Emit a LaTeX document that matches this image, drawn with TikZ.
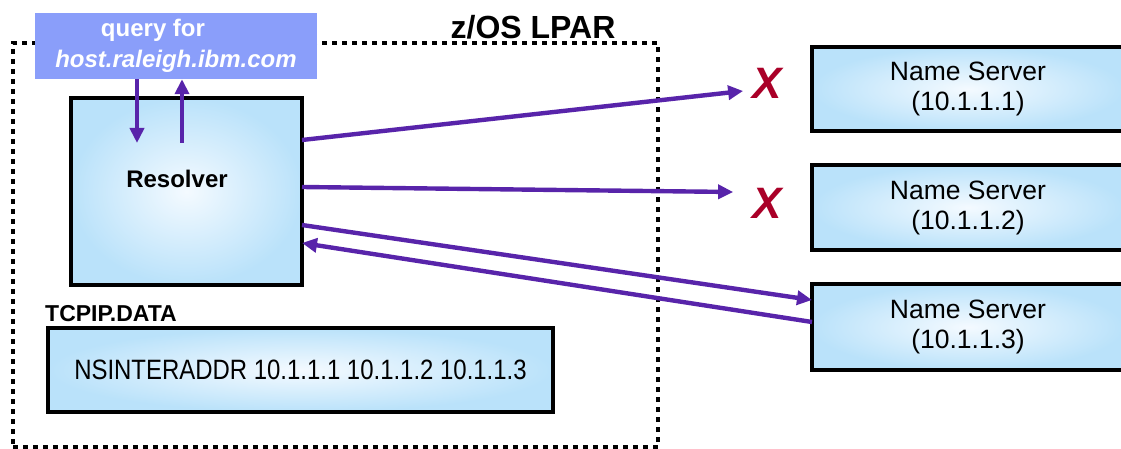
\documentclass[tikz,border=0pt]{standalone}
\usepackage{fontspec}
\setmainfont{Liberation Sans}
\usetikzlibrary{arrows.meta}
\definecolor{queryfill}{RGB}{138,158,250}
\definecolor{flow}{RGB}{88,36,170}
\definecolor{fail}{RGB}{170,0,40}
\definecolor{boxedge}{RGB}{186,226,250}
\definecolor{boxmid}{RGB}{244,250,255}
\begin{document}
\begin{tikzpicture}[x=1pt,y=-1pt,
  panel/.style={draw=black,line width=4pt,inner color=boxmid,outer color=boxedge,
    inner sep=0pt,outer sep=0pt,align=center},
  flowline/.style={draw=flow,line width=4.4pt,-{Triangle[length=15pt,width=14pt]}},
  framebox/.style={draw=black,line width=4.6pt,dash pattern=on 5pt off 5pt,
    inner sep=0pt,outer sep=0pt},
  querybox/.style={fill=queryfill,text=white,font=\fontsize{24}{31}\selectfont\bfseries,
    inner sep=0pt,align=center},
  srvtext/.style={font=\fontsize{26.5}{30}\selectfont},
  failmark/.style={text=fail,font=\fontsize{44}{44}\selectfont\bfseries\itshape,inner sep=0pt}]
\useasboundingbox (0,0) rectangle (1121,449);
\clip (0,0) rectangle (1121,449);

% LPAR boundary and its title
\node[framebox,minimum width=645pt,minimum height=404pt] (lpar) at (335.5,245) {};
\node[anchor=base,font=\fontsize{32}{34}\selectfont\bfseries,inner sep=0pt] (lpartitle) at (533,39) {z/OS LPAR};

% query box on top of the boundary
\node[querybox,minimum width=282pt,minimum height=66pt] (query) at (176,46)
  {query for\hspace*{46pt}\\ \textit{host.raleigh.ibm.com}};

% resolver
\node[panel,minimum width=231pt,minimum height=187pt] (res) at (186.5,191.5) {};
\node[font=\fontsize{24}{26}\selectfont\bfseries,inner sep=0pt] (reslabel) at (177,179) {Resolver};

% TCPIP.DATA
\node[anchor=base west,font=\fontsize{23}{24}\selectfont\bfseries,inner sep=0pt] (tcpiplabel) at (45,321) {TCPIP.DATA};
\node[panel,minimum width=505pt,minimum height=84pt] (tcpip) at (300.5,370)
  {\scalebox{0.855}[1]{\fontsize{28}{30}\selectfont NSINTERADDR 10.1.1.1 10.1.1.2 10.1.1.3}};

% name servers (running past the right edge)
\node[panel,minimum width=312pt,minimum height=84pt,srvtext] (ns1) at (968,89) {Name Server\\(10.1.1.1)};
\node[panel,minimum width=312pt,minimum height=85pt,srvtext] (ns2) at (968,207.5) {Name Server\\(10.1.1.2)};
\node[panel,minimum width=312pt,minimum height=86pt,srvtext] (ns3) at (968,327) {Name Server\\(10.1.1.3)};

% unreachable marks
\node[failmark] (x1) at (767,83) {X};
\node[failmark] (x2) at (767,203) {X};

% query in and answer out
\coordinate (qdown) at (137,143);
\coordinate (qup) at (182,143);
\draw[flowline] (query.south -| qdown) -- (qdown);
\draw[flowline] (qup) -- (query.south -| qup);

% attempts to the name servers
\draw[flowline] ([yshift=51.5pt]res.east) -- ([xshift=-9pt,yshift=-8pt]x1.west);
\draw[flowline] ([yshift=4.5pt]res.east) -- ([xshift=-19pt,yshift=11pt]x2.west);
\draw[flowline] ([yshift=-33.5pt]res.east) -- ([yshift=27pt]ns3.west);
\draw[flowline] ([yshift=5pt]ns3.west) -- ([yshift=-51.5pt]res.east);
\end{tikzpicture}
\end{document}
